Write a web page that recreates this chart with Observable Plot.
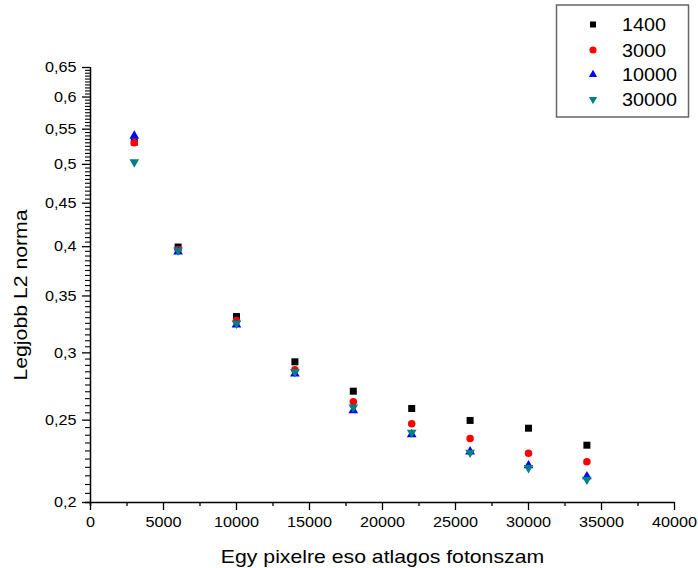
<!DOCTYPE html>
<html><head><meta charset="utf-8">
<script src="https://cdn.jsdelivr.net/npm/d3@7"></script>
<script src="https://cdn.jsdelivr.net/npm/@observablehq/plot@0.6"></script>
<style>
body{margin:0;background:#fff;}
#wrap{position:relative;width:698px;height:568px;font-family:"Liberation Sans",Arial,sans-serif;}
</style></head><body><div id="wrap"></div>
<script>
// Data
const photons   = [3000, 6000, 10000, 14000, 18000, 22000, 26000, 30000, 34000];
const norm1400  = [0.531, 0.3996, 0.331, 0.2928, 0.2704, 0.258, 0.2498, 0.2446, 0.2336];
const norm3000  = [0.530, 0.397, 0.3276, 0.2865, 0.2627, 0.2475, 0.2379, 0.2286, 0.2233];
const norm10000 = [0.540, 0.3945, 0.3237, 0.2835, 0.2566, 0.2405, 0.2295, 0.2211, 0.2146];
const norm30000 = [0.503, 0.396, 0.325, 0.285, 0.2589, 0.2418, 0.2290, 0.2197, 0.2129];
const seriesNames = ["1400", "3000", "10000", "30000"];
const seriesColors = ["#000000", "#ff0000", "#0000ff", "#008080"];
const xMajor = [0, 5000, 10000, 15000, 20000, 25000, 30000, 35000, 40000];
const xMinor = [2500, 7500, 12500, 17500, 22500, 27500, 32500, 37500];
const yMajor = [0.2, 0.25, 0.3, 0.35, 0.4, 0.45, 0.5, 0.55, 0.6, 0.65];
const yMinor = d3.range(40, 131).filter(i => i % 10 !== 0).map(i => +(i * 0.005).toFixed(3));
const xTitle = "Egy pixelre eso atlagos fotonszam";
const yTitle = "Legjobb L2 norma";

const triangleDown = {
  draw(context, size) {
    const s3 = Math.sqrt(3);
    const y = -Math.sqrt(size / (s3 * 3));
    context.moveTo(0, -2 * y);
    context.lineTo(-s3 * y, y);
    context.lineTo(s3 * y, y);
    context.closePath();
  }
};
const symbols = ["square", "circle", "triangle", triangleDown];
const d3Symbols = [d3.symbolSquare, d3.symbolCircle, d3.symbolTriangle, triangleDown];
const dotR = [3.95, 3.75, 3.6, 3.6];
const allSeries = [norm1400, norm3000, norm10000, norm30000];
const tables = allSeries.map(vals => photons.map((x, i) => ({x, y: vals[i]})));

const fmt = d => String(d).replace(".", ",");

const chart = Plot.plot({
  width: 698, height: 568,
  marginLeft: 90, marginRight: 24, marginTop: 67, marginBottom: 66,
  style: {fontFamily: "'Liberation Sans', Arial, sans-serif", background: "white", color: "black"},
  x: {domain: [0, 40000]},
  y: {type: "log", domain: [0.2, 0.65]},
  marks: [
    Plot.axisX({ticks: xMinor, tickSize: 4, tickFormat: () => "", label: null, strokeWidth: 1.3}),
    Plot.axisX({ticks: xMajor, tickSize: 8, tickPadding: 6, tickFormat: d => String(d), fontSize: 15, label: null, strokeWidth: 1.3}),
    Plot.axisY({ticks: yMinor, tickSize: 5, tickFormat: () => "", label: null, strokeWidth: 1.1}),
    Plot.axisY({ticks: yMajor, tickSize: 8, tickPadding: 6, tickFormat: fmt, fontSize: 15, label: null, strokeWidth: 1.3}),
    Plot.ruleX([0], {insetBottom: -4, strokeWidth: 1.5}),
    Plot.ruleY([0.2], {insetLeft: -5, strokeWidth: 1.5}),
    ...tables.map((t, k) => Plot.dot(t, {x: "x", y: "y", symbol: symbols[k], fill: seriesColors[k], r: dotR[k]})),
    Plot.text([xTitle], {frameAnchor: "bottom", dy: 60, lineAnchor: "bottom", textAnchor: "middle", fontSize: 18}),
    Plot.text([yTitle], {frameAnchor: "left", rotate: -90, dx: -76, dy: 10, lineAnchor: "top", textAnchor: "middle", fontSize: 18})
  ]
});

// widen glyphs horizontally like the original rendering
chart.querySelectorAll("text").forEach(t => {
  const txt = t.textContent;
  const k = (txt === xTitle || txt === yTitle) ? 1.18 : 1.08;
  const tr = t.getAttribute("transform") || "";
  t.setAttribute("transform", tr + ` scale(${k},1)`);
});

const wrap = document.getElementById("wrap");
wrap.appendChild(chart);

// Legend box
const leg = d3.create("svg")
  .attr("width", 135).attr("height", 115)
  .style("position", "absolute").style("left", "555px").style("top", "4px")
  .style("font-family", "'Liberation Sans', Arial, sans-serif");
leg.append("rect").attr("x", 1.5).attr("y", 1).attr("width", 132).attr("height", 112)
  .attr("fill", "white").attr("stroke", "#666").attr("stroke-width", 1.5);
const legSize = [36, 40, 30, 30];
const rowY = [20.5, 46, 70.5, 95.5];
seriesNames.forEach((name, k) => {
  leg.append("path")
    .attr("d", d3.symbol(d3Symbols[k], legSize[k])())
    .attr("transform", `translate(38,${rowY[k]})`)
    .attr("fill", seriesColors[k]);
  leg.append("text")
    .attr("transform", `translate(67,${rowY[k] + 6.5}) scale(1.1,1)`)
    .attr("font-size", 18)
    .attr("fill", "black")
    .text(name);
});
wrap.appendChild(leg.node());
</script>
</body></html>
